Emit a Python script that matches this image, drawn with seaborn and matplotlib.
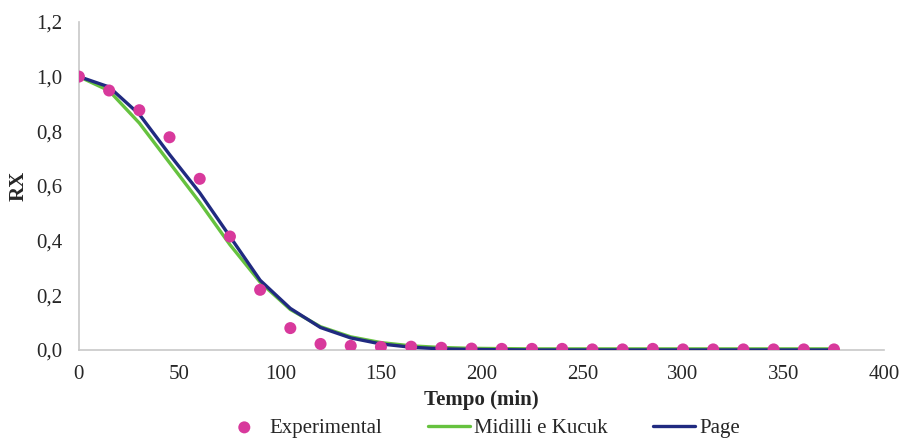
import numpy as np
import pandas as pd
import matplotlib.pyplot as plt
import seaborn as sns
from matplotlib.ticker import FuncFormatter

# ------------------------------------
# Data
# ------------------------------------
tempo = [0, 15, 30, 45, 60, 75, 90, 105, 120, 135, 150, 165, 180, 195, 210,
         225, 240, 255, 270, 285, 300, 315, 330, 345, 360, 375]

experimental = [1.0, 0.949, 0.877, 0.778, 0.626, 0.415, 0.22, 0.08, 0.022, 0.015,
                0.011, 0.012, 0.008, 0.005, 0.004, 0.004, 0.004, 0.002, 0.002,
                0.004, 0.002, 0.002, 0.002, 0.002, 0.002, 0.002]

midilli = [1.0, 0.948, 0.83, 0.685, 0.54, 0.385, 0.248, 0.148, 0.085, 0.048,
           0.027, 0.015, 0.009, 0.006, 0.005, 0.004, 0.004, 0.004, 0.004,
           0.004, 0.004, 0.004, 0.004, 0.004, 0.004, 0.004]

page = [1.0, 0.962, 0.862, 0.715, 0.575, 0.415, 0.255, 0.152, 0.082, 0.044,
        0.022, 0.01, 0.004, 0.002, 0.001, 0.0, 0.0, 0.0, 0.0, 0.0, 0.0,
        0.0, 0.0, 0.0, 0.0, 0.0]

df = pd.DataFrame({'Tempo': tempo, 'Experimental': experimental,
                   'Midilli e Kucuk': midilli, 'Page': page})

# ------------------------------------
# Plot
# ------------------------------------
sns.set_style('white')
plt.rcParams['font.family'] = ['Liberation Serif', 'DejaVu Serif']

fig = plt.figure(figsize=(9.07, 4.38), dpi=100)
ax = fig.add_axes([0.087, 0.201, 0.888, 0.749])

sns.lineplot(data=df, x='Tempo', y='Midilli e Kucuk', color='#66C23F',
             linewidth=2.4, label='Midilli e Kucuk', ax=ax, zorder=2)
sns.lineplot(data=df, x='Tempo', y='Page', color='#202A80',
             linewidth=2.4, label='Page', ax=ax, zorder=3)
sns.scatterplot(data=df, x='Tempo', y='Experimental', color='#D8399C',
                s=75, edgecolor='none', label='Experimental', ax=ax, zorder=4)

ax.set_xlim(0, 400)
ax.set_ylim(0, 1.2)
ax.set_xticks(np.arange(0, 401, 50))
ax.set_yticks(np.arange(0, 1.21, 0.2))
ax.yaxis.set_major_formatter(FuncFormatter(lambda v, p: f'{v:.1f}'.replace('.', ',')))
ax.tick_params(labelsize=15, length=0)
ax.tick_params(axis='x', pad=11)
ax.tick_params(axis='y', pad=12)

for side in ['top', 'right']:
    ax.spines[side].set_visible(False)
for side in ['left', 'bottom']:
    ax.spines[side].set_color('#C8C8C8')
    ax.spines[side].set_linewidth(1.2)

ax.set_xlabel('Tempo (min)', fontsize=15, fontweight='bold', labelpad=4)
ax.set_ylabel('RX', fontsize=15, fontweight='bold', labelpad=5)

handles, labels = ax.get_legend_handles_labels()
order = [labels.index('Experimental'), labels.index('Midilli e Kucuk'), labels.index('Page')]
ax.legend([handles[i] for i in order], [labels[i] for i in order],
          loc='center', bbox_to_anchor=(0.5, -0.238), ncol=3,
          frameon=False, fontsize=15, handlelength=2.0, columnspacing=2.2,
          handletextpad=0.2, borderpad=0.1)

plt.savefig('out.png', dpi=100)
